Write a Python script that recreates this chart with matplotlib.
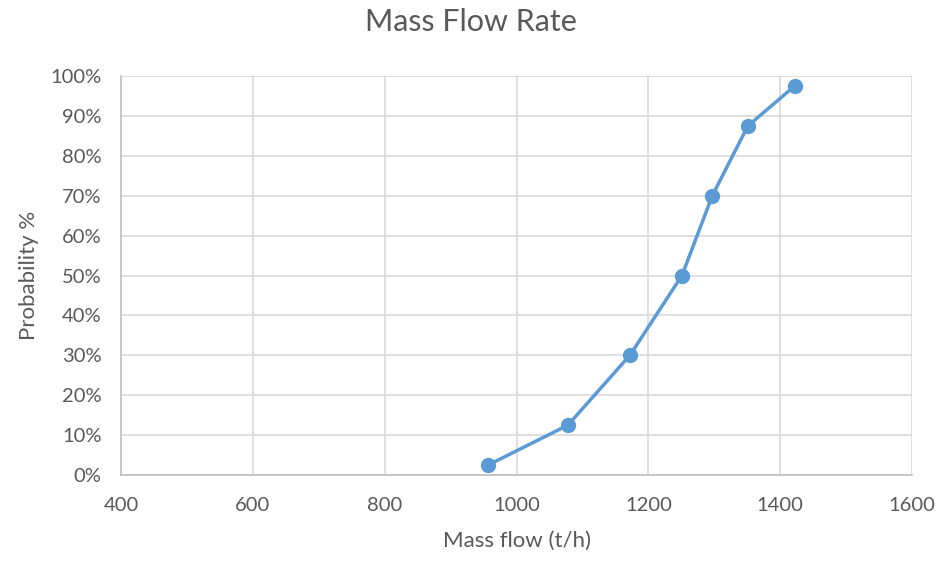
import matplotlib
matplotlib.use("Agg")
import matplotlib.pyplot as plt
from matplotlib.ticker import PercentFormatter

# mass flow (t/h) vs cumulative probability (%)
mass_flow = [957, 1078, 1172, 1251, 1297, 1351, 1422]
probability = [2.5, 12.5, 30, 50, 70, 87.5, 97.5]

x_ticks = [400, 600, 800, 1000, 1200, 1400, 1600]
y_ticks = list(range(0, 101, 10))

text_color = "#595959"
plt.rcParams['font.family'] = ['Lato', 'DejaVu Sans']

fig = plt.figure(figsize=(9.41, 5.61), dpi=100)
ax = fig.add_axes([0.1286, 0.1533, 0.8406, 0.7112])

ax.plot(mass_flow, probability, color="#5B9BD5", linewidth=2.5,
        marker="o", markersize=10, zorder=3)

ax.set_xlim(400, 1600)
ax.set_ylim(0, 100)
ax.set_xticks(x_ticks)
ax.set_yticks(y_ticks)
ax.yaxis.set_major_formatter(PercentFormatter(decimals=0))
ax.grid(True, color="#D9D9D9", linewidth=1.2)
ax.set_axisbelow(True)

for side in ("top", "right"):
    ax.spines[side].set_visible(False)
for side in ("left", "bottom"):
    ax.spines[side].set_color("#BFBFBF")
    ax.spines[side].set_linewidth(1.2)

ax.tick_params(length=0, labelsize=14.5, colors=text_color)
ax.tick_params(axis="x", pad=16)
ax.tick_params(axis="y", pad=14)

ax.set_xlabel("Mass flow (t/h)", fontsize=16, color=text_color, labelpad=12)
ax.set_ylabel("Probability %", fontsize=16, color=text_color, labelpad=8)
fig.suptitle("Mass Flow Rate", fontsize=22, color=text_color, y=0.985)

fig.savefig("out.png", dpi=100)
